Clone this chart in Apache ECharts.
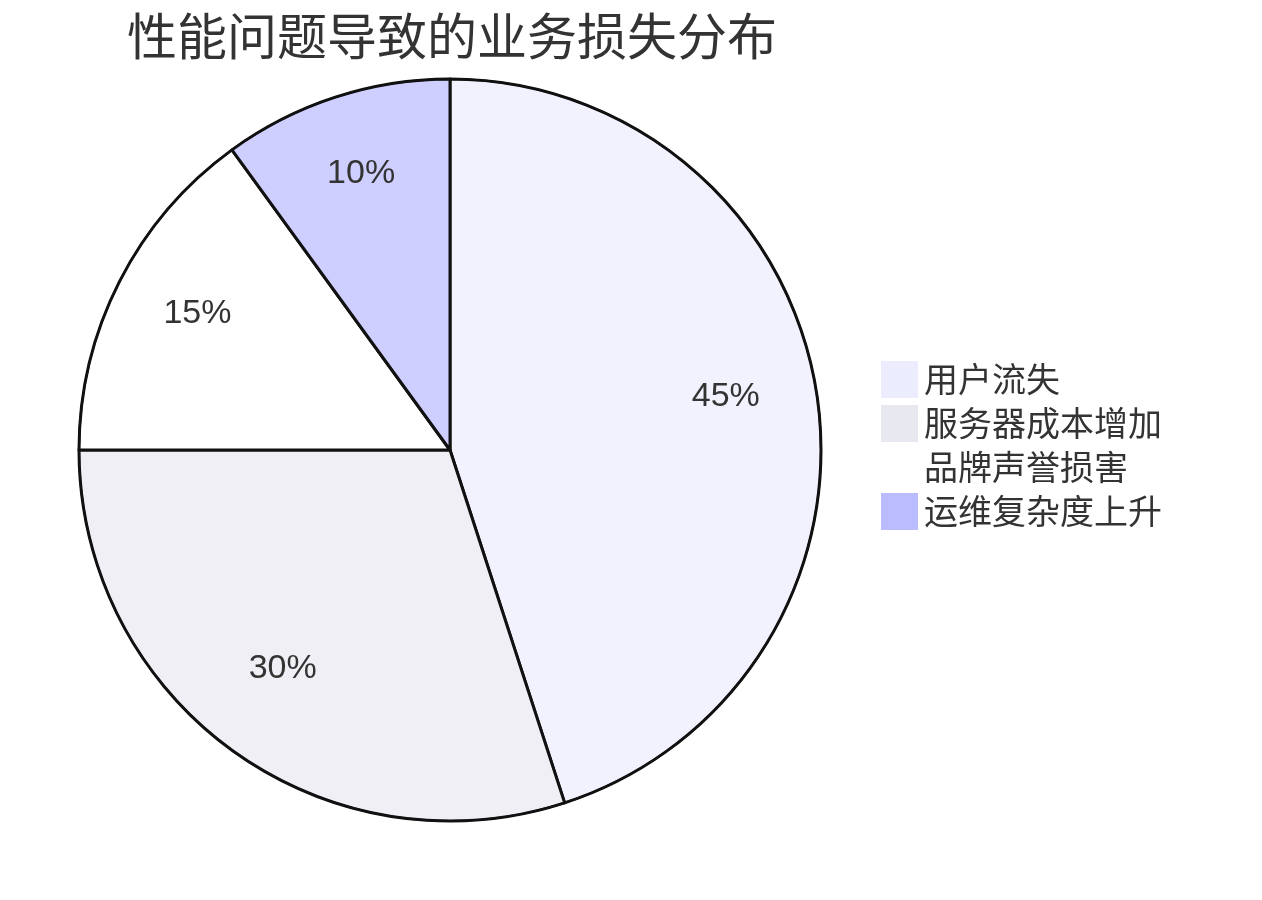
<!DOCTYPE html>
<html>
<head>
<meta charset="utf-8">
<script src="https://cdn.jsdelivr.net/npm/echarts@6/dist/echarts.min.js"></script>
<style>
html,body{margin:0;padding:0;background:#fff;}
#chart{width:1262px;height:900px;}
</style>
</head>
<body>
<div id="chart"></div>
<script>
const titleText = '性能问题导致的业务损失分布';
const categories = ['用户流失', '服务器成本增加', '品牌声誉损害', '运维复杂度上升'];
const values = [45, 30, 15, 10];
const legendColors = ['#ECECFF', '#E8E8F0', '#FFFFFF', '#BBBBFF'];
const sliceColors = ['#F2F2FF', '#EFEFF5', '#FFFFFF', '#CFCFFF'];

const chart = echarts.init(document.getElementById('chart'), null, {renderer: 'canvas'});
const fontMain = "'Liberation Sans', Arial, 'Noto Sans CJK SC', sans-serif";

chart.setOption({
  animation: false,
  backgroundColor: '#ffffff',
  title: {
    text: titleText,
    left: 122,
    top: 6,
    textStyle: {fontSize: 50, fontWeight: 'normal', color: '#333333', fontFamily: "'Noto Sans CJK SC', sans-serif"}
  },
  legend: {
    orient: 'vertical',
    left: 876,
    top: 356,
    itemWidth: 37,
    itemHeight: 37,
    itemGap: 7,
    icon: 'rect',
    selectedMode: false,
    textStyle: {fontSize: 34, color: '#333333', fontFamily: "'Noto Sans CJK SC', sans-serif", padding: [0, 0, 0, 1]},
    data: categories.map((n, i) => ({name: n, itemStyle: {color: legendColors[i], borderWidth: 0}}))
  },
  series: [
    {
      type: 'pie',
      center: [450, 450],
      radius: [0, 371],
      startAngle: 90,
      clockwise: true,
      avoidLabelOverlap: false,
      label: {show: false},
      labelLine: {show: false},
      emphasis: {disabled: true},
      itemStyle: {borderColor: '#111111', borderWidth: 3},
      data: categories.map((n, i) => ({name: n, value: values[i], itemStyle: {color: sliceColors[i]}}))
    },
    {
      type: 'pie',
      center: [450, 450],
      radius: [185.5, 371],
      startAngle: 90,
      clockwise: true,
      silent: true,
      avoidLabelOverlap: false,
      emphasis: {disabled: true},
      itemStyle: {color: 'rgba(0,0,0,0)', borderWidth: 0},
      label: {
        show: true,
        position: 'inside',
        formatter: '{c}%',
        fontSize: 34,
        color: '#333333',
        fontFamily: fontMain,
        offset: [-2, -9]
      },
      labelLine: {show: false},
      data: categories.map((n, i) => ({name: n, value: values[i]}))
    },
    {
      type: 'pie',
      center: [450, 450],
      radius: [370, 372],
      startAngle: 90,
      silent: true,
      emphasis: {disabled: true},
      label: {show: false},
      labelLine: {show: false},
      itemStyle: {color: '#111111', borderWidth: 0},
      data: [{name: '', value: 1}]
    }
  ]
});
</script>
</body>
</html>
